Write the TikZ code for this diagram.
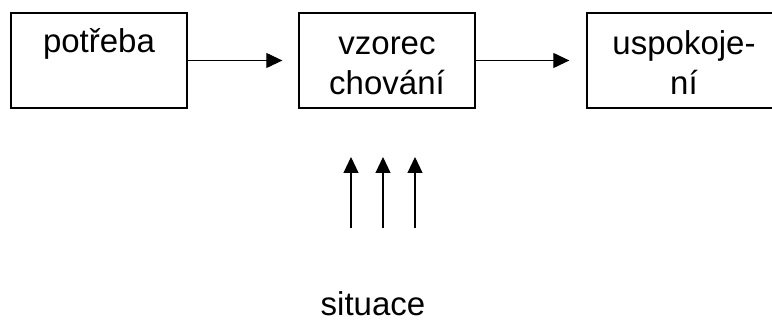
\documentclass[tikz,border=0pt]{standalone}
\usepackage{fontspec}
\setmainfont{Liberation Sans}
\usetikzlibrary{arrows.meta}

\begin{document}
\begin{tikzpicture}[x=1pt, y=-1pt,
  box/.style={draw, line width=1.3pt, minimum width=176pt, minimum height=95pt, inner sep=0pt},
  lbl/.style={anchor=base, inner sep=0pt, font=\fontsize{33}{40}\selectfont},
  flow/.style={line width=1.1pt, -{Triangle[length=16pt, width=15pt]}}]
  \useasboundingbox (0,0) rectangle (772,320);

  % three stages
  \node[box] (need) at (99,60.5) {};
  \node[box] (pattern) at (387,60.5) {};
  \node[box, minimum width=194pt] (satisf) at (684,60.5) {};

  \node[lbl] (needtxt) at (99,53) {potřeba};
  \node[lbl] (pat1) at (387,55) {vzorec};
  \node[lbl] (pat2) at (387,95) {chování};
  \node[lbl] (sat1) at (684,55) {uspokoje-};
  \node[lbl] (sat2) at (684,95) {ní};

  % forward flow
  \draw[flow, shorten >=16pt] (need.east) -- (pattern.west);
  \draw[flow, shorten >=17pt] (pattern.east) -- (satisf.west);

  % situational influences
  \node[lbl, text depth=0pt] (sit) at (373,316) {situace};
  \foreach \i/\x in {1/351, 2/383, 3/415} {
    \coordinate (s\i) at (\x,228);
    \coordinate (e\i) at (\x,157);
    \draw[flow] (s\i) -- (e\i);
  }
\end{tikzpicture}
\end{document}
